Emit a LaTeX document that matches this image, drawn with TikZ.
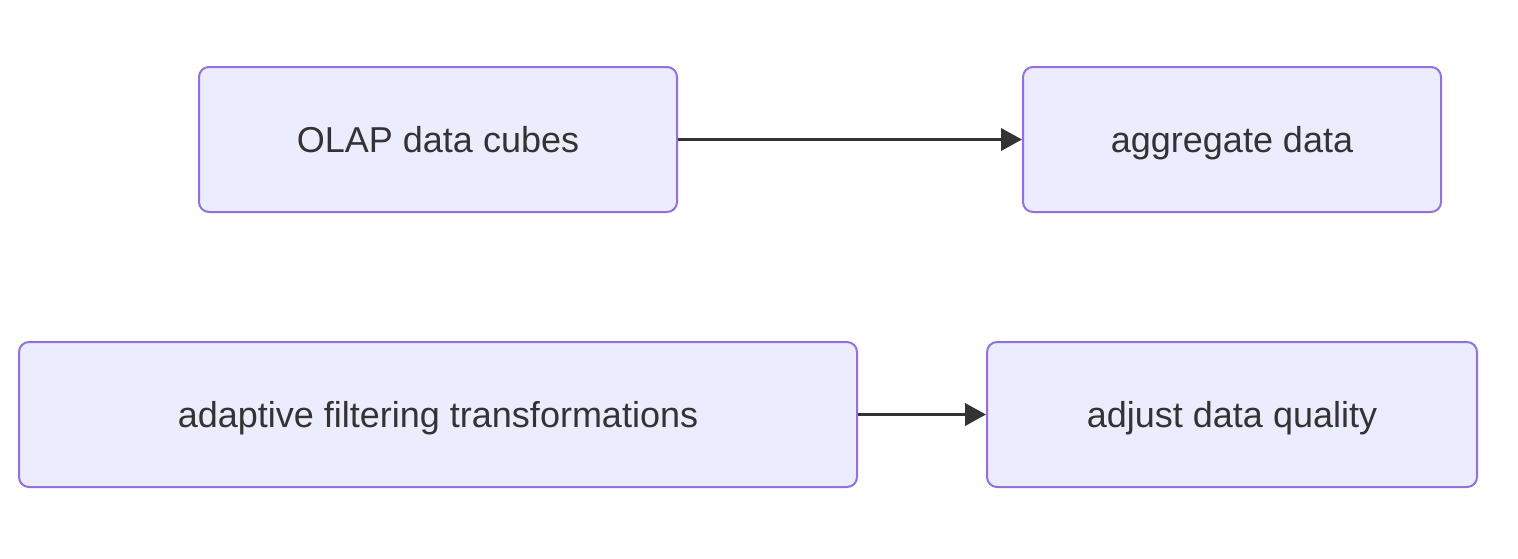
\documentclass[tikz,border=0pt]{standalone}
\usepackage{fontspec}
\setmainfont{Liberation Sans}
\usetikzlibrary{arrows.meta}
\definecolor{boxfill}{HTML}{ECECFF}
\definecolor{boxline}{HTML}{9370DB}
\definecolor{ink}{HTML}{333333}
\tikzset{
  box/.style={draw=boxline, fill=boxfill, line width=1pt, rounded corners=5pt,
    minimum height=72.5pt, text=ink, font=\fontsize{18}{22}\selectfont, inner sep=0pt,
    text height=13pt, text depth=0pt},
  link/.style={draw=ink, line width=1.9pt, -{Triangle[length=10.5pt,width=11pt]}}
}
\begin{document}
\begin{tikzpicture}[x=0.5pt,y=-0.5pt]
\useasboundingbox (0,0) rectangle (1518,558);
\node[box, minimum width=239pt] (olap) at (438,139.5) {OLAP data cubes};
\node[box, minimum width=209pt] (agg) at (1232,139.5) {aggregate data};
\node[box, minimum width=419pt] (adapt) at (438,414.5) {adaptive filtering transformations};
\node[box, minimum width=245pt] (adj) at (1232,414.5) {adjust data quality};
\draw[link] (olap) -- (agg);
\draw[link] (adapt) -- (adj);
\end{tikzpicture}
\end{document}
